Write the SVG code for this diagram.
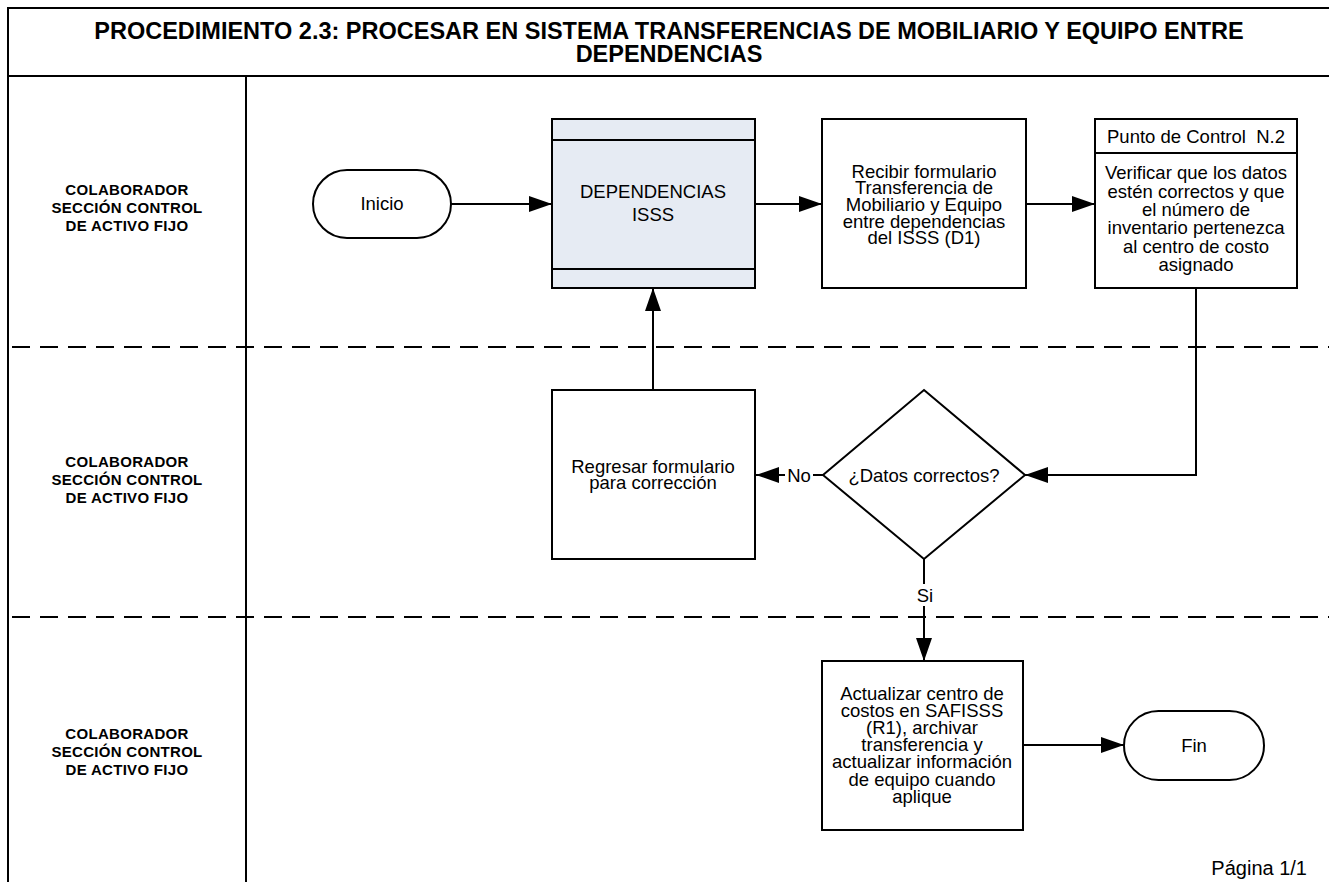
<svg xmlns="http://www.w3.org/2000/svg" width="1329" height="882" viewBox="0 0 1329 882">
<style>
.frame{fill:none;stroke:#000;stroke-width:2}
.dash{fill:none;stroke:#000;stroke-width:2;stroke-dasharray:18 10}
.box{fill:#fff;stroke:#000;stroke-width:2}
.sub{fill:#e6ebf3;stroke:#000;stroke-width:2}
.conn{fill:none;stroke:#000;stroke-width:2}
.t{font-family:"Liberation Sans",Arial,sans-serif;font-size:18.5px;fill:#000;text-anchor:middle}
.title{font-family:"Liberation Sans",Arial,sans-serif;font-size:23.5px;font-weight:bold;fill:#000;text-anchor:middle}
.lane{font-family:"Liberation Sans",Arial,sans-serif;font-size:15px;font-weight:bold;letter-spacing:0.3px;fill:#000;text-anchor:middle}
.lbl{font-family:"Liberation Sans",Arial,sans-serif;font-size:18.5px;fill:#000;text-anchor:middle}
</style>
<defs>
<marker id="arr" markerUnits="userSpaceOnUse" markerWidth="24" markerHeight="18" refX="23" refY="8" orient="auto">
<path d="M0,0 L23,8 L0,16 Z" fill="#000"/>
</marker>
</defs>
<rect width="1329" height="882" fill="#fff"/>
<g id="frame">
<path class="frame" d="M1340,8 H8 V890 M8,76 H1340 M246,76 V890"/>
<text class="title" x="669" y="39">PROCEDIMIENTO 2.3: PROCESAR EN SISTEMA TRANSFERENCIAS DE MOBILIARIO Y EQUIPO ENTRE</text>
<text class="title" x="669" y="62">DEPENDENCIAS</text>
<path class="dash" d="M12,347 H1329 M12,617 H1329"/>
</g>
<g id="lane1">
<text class="lane" x="127" y="195">COLABORADOR</text>
<text class="lane" x="127" y="213">SECCIÓN CONTROL</text>
<text class="lane" x="127" y="231">DE ACTIVO FIJO</text>
</g>
<g id="lane2">
<text class="lane" x="127" y="467">COLABORADOR</text>
<text class="lane" x="127" y="485">SECCIÓN CONTROL</text>
<text class="lane" x="127" y="503">DE ACTIVO FIJO</text>
</g>
<g id="lane3">
<text class="lane" x="127" y="739">COLABORADOR</text>
<text class="lane" x="127" y="757">SECCIÓN CONTROL</text>
<text class="lane" x="127" y="775">DE ACTIVO FIJO</text>
</g>
<g id="connectors">
<path class="conn" d="M451,204 H552" marker-end="url(#arr)"/>
<path class="conn" d="M755,204 H822" marker-end="url(#arr)"/>
<path class="conn" d="M1026,204 H1095" marker-end="url(#arr)"/>
<path class="conn" d="M1196,288 V475 H1025" marker-end="url(#arr)"/>
<path class="conn" d="M823,475 H756" marker-end="url(#arr)"/>
<path class="conn" d="M653,390 V288" marker-end="url(#arr)"/>
<path class="conn" d="M924,559 V661" marker-end="url(#arr)"/>
<path class="conn" d="M1023,745 H1124" marker-end="url(#arr)"/>
<rect x="785" y="464" width="28" height="22" fill="#fff"/>
<text class="lbl" x="799" y="482">No</text>
<rect x="914" y="584" width="21" height="22" fill="#fff"/>
<text class="lbl" x="925" y="602">Si</text>
</g>
<g id="inicio">
<rect class="box" x="313" y="170" width="138" height="68" rx="34" ry="34"/>
<text class="t" x="382" y="210">Inicio</text>
</g>
<g id="dependencias">
<rect class="sub" x="552" y="119" width="203" height="169"/>
<path class="frame" d="M552,140 H755 M552,269 H755"/>
<text class="t" x="653" y="198">DEPENDENCIAS</text>
<text class="t" x="653" y="221">ISSS</text>
</g>
<g id="recibir">
<rect class="box" x="822" y="119" width="204" height="169"/>
<text class="t" x="924" y="178">Recibir formulario</text>
<text class="t" x="924" y="194">Transferencia de</text>
<text class="t" x="924" y="211">Mobiliario y Equipo</text>
<text class="t" x="924" y="228">entre dependencias</text>
<text class="t" x="924" y="244">del ISSS (D1)</text>
</g>
<g id="punto">
<rect class="box" x="1095" y="119" width="202" height="169"/>
<path class="frame" d="M1095,153 H1297"/>
<text class="t" x="1196" y="143" xml:space="preserve">Punto de Control  N.2</text>
<text class="t" x="1196" y="179">Verificar que los datos</text>
<text class="t" x="1196" y="198">estén correctos y que</text>
<text class="t" x="1196" y="216">el número de</text>
<text class="t" x="1196" y="234">inventario pertenezca</text>
<text class="t" x="1196" y="253">al centro de costo</text>
<text class="t" x="1196" y="271">asignado</text>
</g>
<g id="decision">
<polygon class="box" points="924,390 1025,475 924,559 823,475"/>
<text class="t" x="924" y="482">¿Datos correctos?</text>
</g>
<g id="regresar">
<rect class="box" x="552" y="390" width="203" height="169"/>
<text class="t" x="653" y="473">Regresar formulario</text>
<text class="t" x="653" y="489">para corrección</text>
</g>
<g id="actualizar">
<rect class="box" x="822" y="661" width="201" height="169"/>
<text class="t" x="922" y="700">Actualizar centro de</text>
<text class="t" x="922" y="717">costos en SAFISSS</text>
<text class="t" x="922" y="734">(R1), archivar</text>
<text class="t" x="922" y="751">transferencia y</text>
<text class="t" x="922" y="768">actualizar información</text>
<text class="t" x="922" y="786">de equipo cuando</text>
<text class="t" x="922" y="803">aplique</text>
</g>
<g id="fin">
<rect class="box" x="1124" y="711" width="140" height="69" rx="34.5" ry="34.5"/>
<text class="t" x="1194" y="752">Fin</text>
</g>
<text class="lbl" x="1307" y="875" style="text-anchor:end;font-size:20px">Página 1/1</text>
</svg>
